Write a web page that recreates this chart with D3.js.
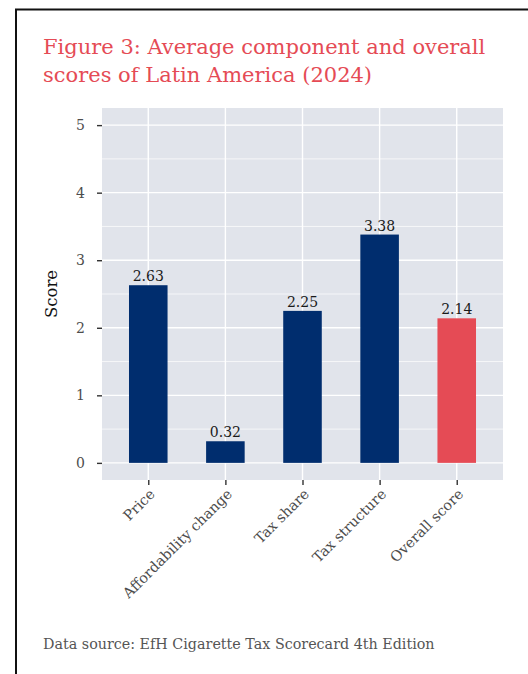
<!DOCTYPE html>
<html>
<head>
<meta charset="utf-8">
<script src="https://cdn.jsdelivr.net/npm/d3@7"></script>
<style>
  html, body { margin: 0; padding: 0; background: #fff; }
  svg { display: block; font-family: "DejaVu Serif", serif; }
</style>
</head>
<body>
<svg id="chart" width="528" height="674"></svg>
<script>
// scores per component
const categories = ['Price', 'Affordability change', 'Tax share', 'Tax structure', 'Overall score'];
const scores = [2.63, 0.32, 2.25, 3.38, 2.14];
const yTicks = [0, 1, 2, 3, 4, 5];

const BLUE = '#002d6e';
const RED = '#e54b55';

const svg = d3.select('#chart');

// page frame (top and left rules)
svg.append('line').attr('x1', 15).attr('x2', 528).attr('y1', 9.5).attr('y2', 9.5)
  .attr('stroke', '#111').attr('stroke-width', 2);
svg.append('line').attr('x1', 16).attr('x2', 16).attr('y1', 9).attr('y2', 674)
  .attr('stroke', '#111').attr('stroke-width', 2);

// title
const title = svg.append('text').attr('fill', RED).attr('font-size', 21);
title.append('tspan').attr('x', 43).attr('y', 54).text('Figure 3: Average component and overall');
title.append('tspan').attr('x', 43).attr('y', 82).text('scores of Latin America (2024)');

const panel = { left: 102, right: 503, top: 108, bottom: 480 };

// discrete x with 0.6 expansion at each end, like ggplot
const x = d3.scalePoint()
  .domain(categories)
  .range([panel.left, panel.right])
  .padding(0.6);
const step = x.step();
const barW = step * 0.5;

const y = d3.scaleLinear()
  .domain([-0.2535, 5.2535])
  .range([panel.bottom, panel.top]);

const g = svg.append('g');

g.append('rect')
  .attr('x', panel.left).attr('y', panel.top)
  .attr('width', panel.right - panel.left).attr('height', panel.bottom - panel.top)
  .attr('fill', '#e1e4eb');

// minor gridlines
const minorY = d3.range(-0.5, 5.6, 1).filter(v => v > y.domain()[0] && v < y.domain()[1]);
g.selectAll('.minor-y').data(minorY).join('line')
  .attr('x1', panel.left).attr('x2', panel.right)
  .attr('y1', d => y(d)).attr('y2', d => y(d))
  .attr('stroke', '#fff').attr('stroke-width', 0.7);

// major gridlines
g.selectAll('.major-y').data(yTicks).join('line')
  .attr('x1', panel.left).attr('x2', panel.right)
  .attr('y1', d => y(d)).attr('y2', d => y(d))
  .attr('stroke', '#fff').attr('stroke-width', 1.4);
g.selectAll('.major-x').data(categories).join('line')
  .attr('x1', d => x(d)).attr('x2', d => x(d))
  .attr('y1', panel.top).attr('y2', panel.bottom)
  .attr('stroke', '#fff').attr('stroke-width', 1.4);

// bars
g.selectAll('.bar').data(categories).join('rect')
  .attr('x', d => x(d) - barW / 2)
  .attr('width', barW)
  .attr('y', (d, i) => y(scores[i]))
  .attr('height', (d, i) => y(0) - y(scores[i]))
  .attr('fill', (d, i) => i === categories.length - 1 ? RED : BLUE);

// value labels
g.selectAll('.val').data(categories).join('text')
  .attr('x', d => x(d))
  .attr('y', (d, i) => y(scores[i]) - 4)
  .attr('text-anchor', 'middle')
  .attr('font-size', 14)
  .attr('fill', '#1a1a1a')
  .text((d, i) => scores[i].toFixed(2));

// y axis
const yAxis = g.append('g')
  .attr('transform', `translate(${panel.left},0)`)
  .call(d3.axisLeft(y).tickValues(yTicks).tickFormat(d3.format('d')).tickSize(5).tickPadding(12));
yAxis.select('.domain').remove();
yAxis.selectAll('line').attr('stroke', '#333').attr('stroke-width', 1.4);
yAxis.selectAll('text').attr('font-family', '"DejaVu Serif", serif')
  .attr('font-size', 14).attr('fill', '#4d4d4d');

// x axis
const xAxis = g.append('g')
  .attr('transform', `translate(0,${panel.bottom})`)
  .call(d3.axisBottom(x).tickSize(5).tickSizeOuter(0));
xAxis.select('.domain').remove();
xAxis.selectAll('line').attr('stroke', '#333').attr('stroke-width', 1.4);
xAxis.selectAll('text')
  .attr('font-family', '"DejaVu Serif", serif')
  .attr('font-size', 14.3).attr('fill', '#4d4d4d')
  .attr('text-anchor', 'end')
  .attr('dy', null)
  .attr('y', 0)
  .attr('transform', 'translate(7,15) rotate(-45)');

// y axis title
svg.append('text')
  .attr('transform', `translate(57,${y(2.5)}) rotate(-90)`)
  .attr('text-anchor', 'middle')
  .attr('font-size', 16.5)
  .attr('fill', '#111')
  .text('Score');

// source note
svg.append('text')
  .attr('x', 43).attr('y', 649)
  .attr('font-size', 14.3)
  .attr('fill', '#555')
  .text('Data source: EfH Cigarette Tax Scorecard 4th Edition');
</script>
</body>
</html>
